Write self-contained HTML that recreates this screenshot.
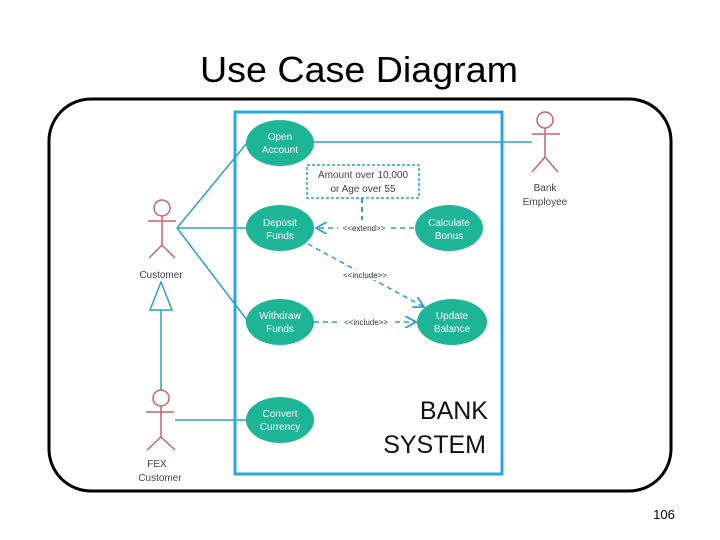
<!DOCTYPE html>
<html><head><meta charset="utf-8"><style>
html,body{margin:0;padding:0;background:#fff;}
svg{display:block;}
</style></head><body>
<svg width="720" height="540" viewBox="0 0 720 540" xmlns="http://www.w3.org/2000/svg" font-family="Liberation Sans, sans-serif">
<defs>
<marker id="ah" viewBox="0 0 10 10" refX="9" refY="5" markerWidth="8" markerHeight="8" orient="auto"><path d="M0,0 L9,5 L0,10" fill="none" stroke="#2a9fd0" stroke-width="1.5"/></marker>
</defs>
<text x="200" y="82" font-size="36" textLength="318" lengthAdjust="spacingAndGlyphs" fill="#000">Use Case Diagram</text>
<rect x="49" y="99" width="622" height="392" rx="42" ry="42" fill="none" stroke="#000" stroke-width="3"/>
<rect x="235" y="112" width="267" height="362" fill="none" stroke="#29a8e0" stroke-width="3"/>
<g stroke="#2a9fd0" stroke-width="1.5" fill="none">
<line x1="177" y1="228" x2="247" y2="143"/>
<line x1="177" y1="228" x2="246" y2="228"/>
<line x1="177" y1="228" x2="247" y2="320"/>
<line x1="314" y1="142" x2="532" y2="142"/>
<line x1="175" y1="420" x2="246" y2="420"/>
<line x1="161" y1="310" x2="161" y2="390"/>
<polygon points="161,282 150,310 172,310" fill="#fff"/>
<g stroke-dasharray="5,4">
<line x1="414" y1="228" x2="316" y2="228" marker-end="url(#ah)"/>
<line x1="308" y1="244" x2="424" y2="307" marker-end="url(#ah)"/>
<line x1="314" y1="322" x2="416" y2="322" marker-end="url(#ah)"/>
<line x1="362" y1="198" x2="362" y2="220" stroke-width="2"/>
</g>
<rect x="307" y="165" width="112" height="33" stroke-dasharray="3,2"/>
</g>
<g font-size="10" fill="#444" text-anchor="middle">
<text x="363" y="178">Amount over 10,000</text>
<text x="363" y="192">or Age over 55</text>
</g>
<g font-size="8" fill="#333" text-anchor="middle">
<rect x="338" y="223" width="50" height="10" fill="#fff"/>
<text x="364" y="231">&lt;&lt;extend&gt;&gt;</text>
<rect x="338" y="270" width="52" height="10" fill="#fff"/>
<text x="365" y="278">&lt;&lt;include&gt;&gt;</text>
<rect x="340" y="317" width="52" height="10" fill="#fff"/>
<text x="366" y="325">&lt;&lt;include&gt;&gt;</text>
</g>
<g fill="#1eb597">
<ellipse cx="280" cy="143" rx="34" ry="23"/>
<ellipse cx="280" cy="228" rx="34" ry="23"/>
<ellipse cx="449" cy="228" rx="34" ry="23"/>
<ellipse cx="280" cy="322" rx="34" ry="23"/>
<ellipse cx="452" cy="322" rx="35" ry="23"/>
<ellipse cx="280" cy="420" rx="34" ry="23"/>
</g>
<g font-size="10" fill="#fff" text-anchor="middle">
<text x="280" y="140">Open</text><text x="280" y="153">Account</text>
<text x="280" y="226">Deposit</text><text x="280" y="239">Funds</text>
<text x="449" y="226">Calculate</text><text x="449" y="239">Bonus</text>
<text x="280" y="319">Withdraw</text><text x="280" y="332">Funds</text>
<text x="452" y="319">Update</text><text x="452" y="332">Balance</text>
<text x="280" y="417">Convert</text><text x="280" y="430">Currency</text>
</g>
<text x="488" y="419" font-size="25" text-anchor="end" fill="#111">BANK</text>
<text x="486" y="453" font-size="25" text-anchor="end" fill="#111">SYSTEM</text>
<g stroke="#c9636a" stroke-width="1.5" fill="none">
<circle cx="162" cy="208" r="8"/><line x1="162" y1="216" x2="162" y2="245"/><line x1="148" y1="221" x2="176" y2="221"/><line x1="162" y1="245" x2="149" y2="258"/><line x1="162" y1="245" x2="175" y2="258"/>
<circle cx="161" cy="398" r="8"/><line x1="161" y1="406" x2="161" y2="437"/><line x1="146" y1="412" x2="174" y2="412"/><line x1="161" y1="437" x2="147" y2="450"/><line x1="161" y1="437" x2="175" y2="450"/>
<circle cx="545" cy="120" r="8"/><line x1="545" y1="128" x2="545" y2="157"/><line x1="532" y1="134" x2="560" y2="134"/><line x1="545" y1="157" x2="532" y2="172"/><line x1="545" y1="157" x2="558" y2="172"/>
</g>
<g font-size="10" fill="#444" text-anchor="middle">
<text x="161" y="278">Customer</text>
<text x="157" y="467">FEX</text><text x="160" y="481">Customer</text>
<text x="545" y="191">Bank</text><text x="545" y="205">Employee</text>
</g>
<text x="664" y="519" font-size="13" text-anchor="middle" fill="#000">106</text>
</svg>
</body></html>
